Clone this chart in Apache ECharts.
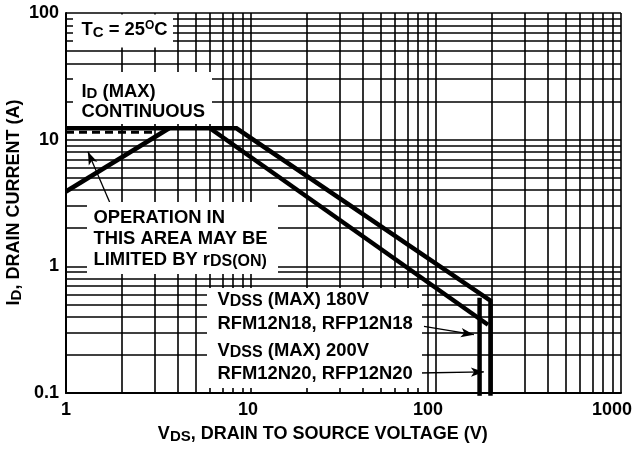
<!DOCTYPE html>
<html><head><meta charset="utf-8">
<script src="https://cdn.jsdelivr.net/npm/echarts@6/dist/echarts.min.js"></script>
<style>html,body{margin:0;padding:0;background:#fff}#c{width:634px;height:449px}</style>
</head><body><div id="c"></div>
<script>
// ---- axis ticks ----
const xTickValues = [1, 10, 100, 1000];
const yTickValues = [0.1, 1, 10, 100];
const xMinorGrid = [2, 3, 4, 5, 6, 7, 8, 9, 20, 30, 40, 50, 60, 70, 80, 90, 200, 300, 400, 500, 600, 700, 800, 900];
const yMinorGrid = [0.2, 0.3, 0.4, 0.5, 0.6, 0.7, 0.8, 0.9, 2, 3, 4, 5, 6, 7, 8, 9, 20, 30, 40, 50, 60, 70, 80, 90];

// ---- boundary curves (V, A) ----
// 200V device boundary (outer)
const outerV = [1, 8.35, 197, 197];
const outerI = [12.3, 12.3, 0.535, 0.095];
// 180V device diagonal
const innerDiagV = [6.0, 191];
const innerDiagI = [12.3, 0.346];
// 180V device vertical limit
const innerVertV = [172, 172];
const innerVertI = [0.565, 0.095];
// rDS(ON) limit
const rdsV = [1, 3.61];
const rdsI = [3.9, 12.3];
// dashed ID(MAX) line
const dashV = [1, 3.0];
const dashI = [11.44, 11.44];
// annotation arrows
const arrowFromV = [1.727, 86.1, 81];
const arrowFromI = [3.18, 0.3355, 0.1438];
const arrowToV = [1.314, 160.3, 181.5];
const arrowToI = [8.03, 0.2885, 0.1466];

const FF = '"Liberation Sans", Arial, sans-serif';
function zip(a, b) { return a.map((v, i) => [v, b[i]]); }
function rich(subOff, subSize, supOff, supSize, mainSize) {
  return {
    m: { fontSize: mainSize || 18.4, fontWeight: 'bold', fontFamily: FF, lineHeight: 20, verticalAlign: 'middle', fill: '#000' },
    s: { fontSize: subSize || 15, fontWeight: 'bold', fontFamily: FF, lineHeight: 20 - 2 * (subOff || 5), verticalAlign: 'bottom', fill: '#000' },
    p: { fontSize: supSize || 12, fontWeight: 'bold', fontFamily: FF, lineHeight: 20 + 2 * (supOff || -4), verticalAlign: 'top', fill: '#000' }
  };
}
function txt(x, y, text, r, align, extra) {
  const a = align || 'left';
  return Object.assign({
    type: 'text', x: x, y: y, z: 11, silent: true,
    style: { text: text, rich: r, align: a, verticalAlign: 'middle', textAlign: a, textVerticalAlign: 'middle',
      fontSize: 18, fontWeight: 'bold', fontFamily: FF, fill: '#000' }
  }, extra || {});
}
function box(x, y, w, h) {
  return { type: 'rect', z: 10, silent: true, shape: { x: x, y: y, width: w, height: h }, style: { fill: '#fff' } };
}
const tickFont = { fontSize: 18, fontWeight: 'bold', fontFamily: FF, color: '#000' };
// x tick label nudges (reference labels sit slightly left of their grid lines)
const xLabelRich = {
  t1: Object.assign({}, tickFont),
  t10: Object.assign({ padding: [0, 6, 0, 0] }, tickFont),
  t100: Object.assign({ padding: [0, 16, 0, 0] }, tickFont),
  t1000: Object.assign({ padding: [0, 18, 0, 0] }, tickFont)
};

const chart = echarts.init(document.getElementById('c'), null, { renderer: 'canvas' });
const lineBase = { type: 'line', showSymbol: false, symbol: 'none', animation: false, silent: true };
const gridLine = { color: '#000', width: 1.6, type: 'solid' };

chart.setOption({
  animation: false,
  backgroundColor: '#fff',
  grid: { left: 66, right: 13, top: 13, bottom: 56, containLabel: false, outerBoundsMode: 'none' },
  xAxis: {
    type: 'log', logBase: 10, min: xTickValues[0], max: xTickValues[xTickValues.length - 1],
    axisLine: { show: true, lineStyle: { color: '#000', width: 2 } },
    axisTick: { show: false },
    splitLine: { show: true, lineStyle: gridLine },
    axisLabel: Object.assign({ margin: 8, hideOverlap: false, rich: xLabelRich,
      formatter: v => '{t' + String(v) + '|' + String(v) + '}' }, tickFont)
  },
  yAxis: {
    type: 'log', logBase: 10, min: yTickValues[0], max: yTickValues[yTickValues.length - 1],
    axisLine: { show: true, lineStyle: { color: '#000', width: 2 } },
    axisTick: { show: false },
    splitLine: { show: true, lineStyle: gridLine },
    axisLabel: Object.assign({ margin: 7, formatter: v => String(v) }, tickFont)
  },
  series: [
    Object.assign({}, lineBase, {
      name: 'grid', data: [], z: 1,
      markLine: {
        silent: true, animation: false, symbol: ['none', 'none'], label: { show: false },
        lineStyle: gridLine,
        emphasis: { disabled: true },
        data: xMinorGrid.map(v => ({ xAxis: v })).concat(yMinorGrid.map(v => ({ yAxis: v })))
      }
    }),
    Object.assign({}, lineBase, { name: 'dash', z: 3, data: zip(dashV, dashI),
      lineStyle: { color: '#000', width: 3, type: [8, 5] } }),
    Object.assign({}, lineBase, { name: 'outer', z: 4, clip: false, data: zip(outerV, outerI),
      lineStyle: { color: '#000', width: 4.5, cap: 'butt', join: 'miter' } }),
    Object.assign({}, lineBase, { name: 'innerDiag', z: 4, clip: false, data: zip(innerDiagV, innerDiagI),
      lineStyle: { color: '#000', width: 4.5, cap: 'butt', join: 'miter' } }),
    Object.assign({}, lineBase, { name: 'innerVert', z: 4, clip: false, data: zip(innerVertV, innerVertI),
      lineStyle: { color: '#000', width: 4.5, cap: 'butt', join: 'miter' } }),
    Object.assign({}, lineBase, { name: 'rds', z: 4, data: zip(rdsV, rdsI),
      lineStyle: { color: '#000', width: 4.5, cap: 'butt', join: 'miter' } }),
    Object.assign({}, lineBase, {
      name: 'arrows', data: [], z: 12,
      markLine: {
        silent: true, animation: false, symbol: ['none', 'arrow'], symbolSize: [7, 13], label: { show: false },
        lineStyle: { color: '#000', width: 1.3, type: 'solid' },
        itemStyle: { color: '#000' },
        emphasis: { disabled: true },
        data: arrowFromV.map((v, i) => [{ coord: [v, arrowFromI[i]] }, { coord: [arrowToV[i], arrowToI[i]] }])
      }
    })
  ],
  graphic: { elements: [
    box(73, 14.5, 100, 33),
    box(73, 72, 139, 52),
    box(87, 202, 191, 72),
    box(207, 288, 215, 100),
    txt(81.5, 30, '{m|T}{s|C}{m| = 25}{p|O}{m|C}', rich(4.5, 15, -4, 12)),
    txt(81.5, 91.7, '{m|I}{s|D}{m| (MAX)}', rich(4.5, 15)),
    txt(81.5, 111.7, '{m|CONTINUOUS}', rich(4.5, 15)),
    txt(93.5, 218, '{m|OPERATION IN}', rich(5, 15)),
    txt(93.5, 238.7, '{m|THIS AREA MAY BE}', rich(5, 15)),
    txt(93.5, 259.5, '{m|LIMITED BY r}{s|DS(ON)}', rich(7, 16)),
    txt(217.5, 300, '{m|V}{s|DSS}{m| (MAX) 180V}', rich(6, 16)),
    txt(217.5, 323.7, '{m|RFM12N18, RFP12N18}', rich(6, 16)),
    txt(217.5, 351, '{m|V}{s|DSS}{m| (MAX) 200V}', rich(6, 16)),
    txt(217.5, 373.7, '{m|RFM12N20, RFP12N20}', rich(6, 16)),
    txt(322.8, 434.5, '{m|V}{s|DS}{m|, DRAIN TO SOURCE VOLTAGE (V)}', rich(5, 15, -4, 12, 18), 'center'),
    txt(14, 202.5, '{m|I}{s|D}{m|, DRAIN CURRENT (A)}', rich(5, 15, -4, 12, 18), 'center', { rotation: Math.PI / 2 })
  ]}
});
</script>
</body></html>
